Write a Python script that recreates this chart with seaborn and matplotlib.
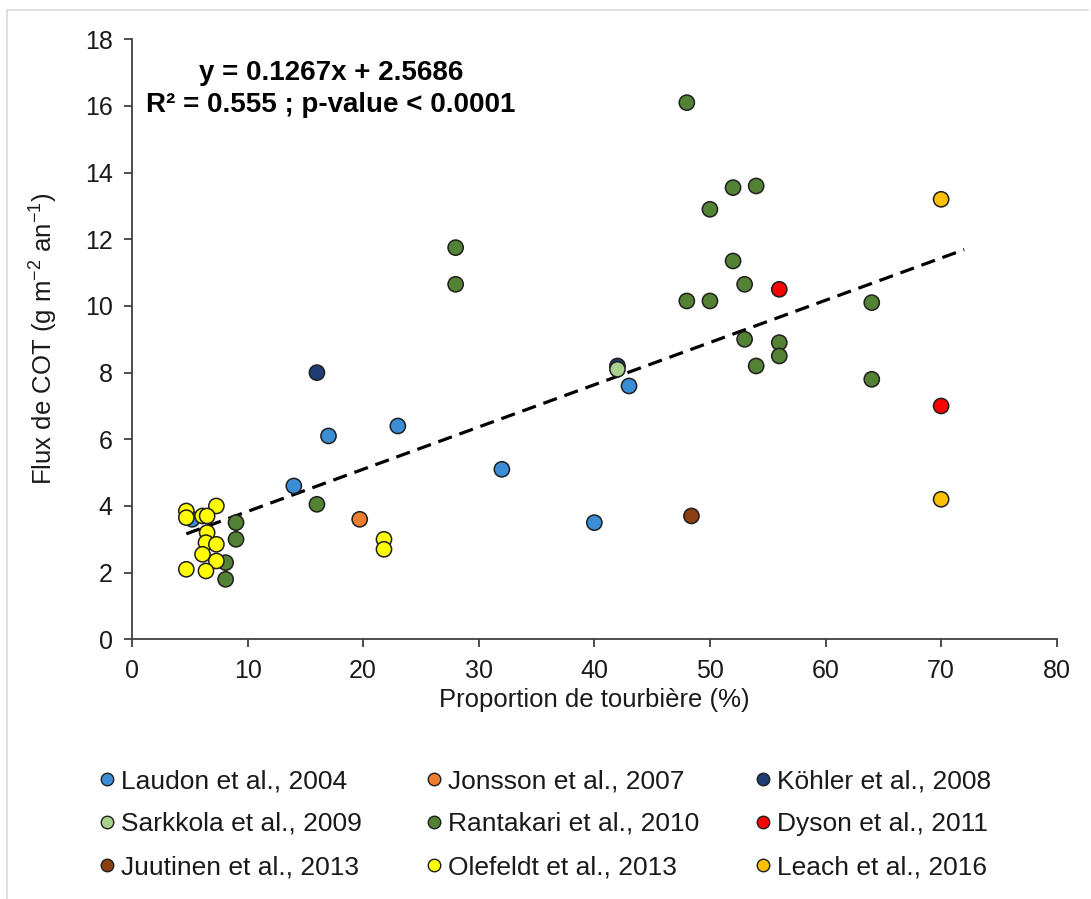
import matplotlib
matplotlib.use("Agg")
import matplotlib.pyplot as plt
from matplotlib.lines import Line2D
import seaborn as sns
import pandas as pd

# Studies, in plotting/legend order, with their marker colours
studies = [
    "Laudon et al., 2004", "Jonsson et al., 2007", "Köhler et al., 2008",
    "Sarkkola et al., 2009", "Rantakari et al., 2010", "Dyson et al., 2011",
    "Juutinen et al., 2013", "Olefeldt et al., 2013", "Leach et al., 2016",
]
colors = [
    "#3B8ED6", "#ED7D31", "#1F3D73",
    "#A9D18E", "#548235", "#FF0000",
    "#8B3F10", "#FFFF00", "#FFC000",
]

# Peatland proportion (%) and DOC flux (g m-2 yr-1) per study
laudon_x = [5.2, 14, 17, 23, 32, 40, 43]
laudon_y = [3.6, 4.6, 6.1, 6.4, 5.1, 3.5, 7.6]
jonsson_x = [19.7]
jonsson_y = [3.6]
kohler_x = [16, 42]
kohler_y = [8.0, 8.2]
sarkkola_x = [42]
sarkkola_y = [8.1]
rantakari_x = [8.1, 8.1, 9, 9, 16, 28, 28, 48, 48, 50, 50, 52, 52, 53, 53,
               54, 54, 56, 56, 64, 64]
rantakari_y = [1.8, 2.3, 3.0, 3.5, 4.05, 11.75, 10.65, 16.1, 10.15, 12.9,
               10.15, 13.55, 11.35, 10.65, 9.0, 13.6, 8.2, 8.9, 8.5, 10.1, 7.8]
dyson_x = [56, 70]
dyson_y = [10.5, 7.0]
juutinen_x = [48.4]
juutinen_y = [3.7]
olefeldt_x = [4.7, 4.7, 7.3, 6.1, 6.5, 6.5, 6.4, 7.3, 6.1, 7.3, 4.7, 6.4,
              21.8, 21.8]
olefeldt_y = [3.85, 3.65, 4.0, 3.7, 3.7, 3.2, 2.9, 2.85, 2.55, 2.35, 2.1,
              2.05, 3.0, 2.7]
leach_x = [70, 70]
leach_y = [13.2, 4.2]

xs = [laudon_x, jonsson_x, kohler_x, sarkkola_x, rantakari_x, dyson_x,
      juutinen_x, olefeldt_x, leach_x]
ys = [laudon_y, jonsson_y, kohler_y, sarkkola_y, rantakari_y, dyson_y,
      juutinen_y, olefeldt_y, leach_y]

# Linear trend
slope = 0.1267
intercept = 2.5686
trend_x = [4.7, 72]

x_ticks = [0, 10, 20, 30, 40, 50, 60, 70, 80]
y_ticks = [0, 2, 4, 6, 8, 10, 12, 14, 16, 18]

df = pd.DataFrame({
    "study": [s for s, xv in zip(studies, xs) for _ in xv],
    "x": [v for xv in xs for v in xv],
    "y": [v for yv in ys for v in yv],
})
palette = dict(zip(studies, colors))

sns.set_theme(style="white")
plt.rcParams["font.family"] = ["Liberation Sans", "DejaVu Sans"]
plt.rcParams["mathtext.fontset"] = "custom"
plt.rcParams["mathtext.rm"] = "Liberation Sans"
plt.rcParams["mathtext.it"] = "Liberation Sans:italic"
plt.rcParams["mathtext.bf"] = "Liberation Sans:bold"

FS = 18
TXT = "#1a1a1a"
SPINE = "#404040"
EDGE = "#1f1f1f"
W, H = 1091, 899

fig = plt.figure(figsize=(W / 100, H / 100), dpi=100)
ax = fig.add_axes([132 / W, 1 - 639.3 / H, (1056.7 - 132) / W, 600 / H])

trend_y = [slope * v + intercept for v in trend_x]
ax.plot(trend_x, trend_y, color="black", lw=2.3, dashes=(4.5, 2.5), zorder=2)

sns.scatterplot(data=df, x="x", y="y", hue="study", hue_order=studies,
                palette=palette, s=120, edgecolor=EDGE, linewidth=1.1,
                legend=False, ax=ax, zorder=3)

ax.set_xlim(0, 80)
ax.set_ylim(0, 18)
ax.set_xticks(x_ticks)
ax.set_yticks(y_ticks)
ax.set_xticklabels([str(t) for t in x_ticks])
ax.set_yticklabels([str(t) for t in y_ticks])
for side in ["top", "right"]:
    ax.spines[side].set_visible(False)
for side in ["left", "bottom"]:
    ax.spines[side].set_color(SPINE)
    ax.spines[side].set_linewidth(1.3)
ax.tick_params(axis="both", direction="out", length=6, width=1.3,
               color=SPINE, labelsize=FS, labelcolor=TXT, pad=8)
ax.tick_params(left=True, bottom=True)
ax.set_xlabel("Proportion de tourbière (%)", fontsize=18.5, color=TXT,
              labelpad=4)
ax.set_ylabel(r"Flux de COT (g m$^{\mathrm{-2}}$ an$^{\mathrm{-1}}$)",
              fontsize=18.5, color=TXT, labelpad=18)
ax.set_facecolor("white")

fig.text(331 / W, 1 - 73 / H, "y = 0.1267x + 2.5686", fontsize=20,
         fontweight="bold", ha="center", va="center", color="black")
fig.text(331 / W, 1 - 105 / H, "R² = 0.555 ; p-value < 0.0001",
         fontsize=20, fontweight="bold", ha="center", va="center",
         color="black")

# Legend: a fixed 3 x 3 grid, rows read across
col_left = [100, 427, 756]
for c, x0 in enumerate(col_left):
    idx = [c, c + 3, c + 6]
    handles = [Line2D([], [], marker="o", linestyle="", markersize=9,
                      markerfacecolor=colors[i], markeredgecolor=EDGE,
                      markeredgewidth=1.0) for i in idx]
    fig.legend(handles, [studies[i] for i in idx], loc="upper left",
               bbox_to_anchor=(x0 / W, 1 - 769 / H), frameon=False,
               fontsize=19, handlelength=0.55, handletextpad=0.25,
               borderpad=0, borderaxespad=0, labelspacing=0.72,
               labelcolor=TXT)

# Thin frame along the top and left edges of the figure
fig.add_artist(Line2D([7 / W, 1088 / W], [1 - 10 / H, 1 - 10 / H],
                      transform=fig.transFigure, color="#d9d9d9", lw=1.2))
fig.add_artist(Line2D([7 / W, 7 / W], [0, 1 - 10 / H],
                      transform=fig.transFigure, color="#d9d9d9", lw=1.2))

fig.savefig("out.png", dpi=100, facecolor="white")
